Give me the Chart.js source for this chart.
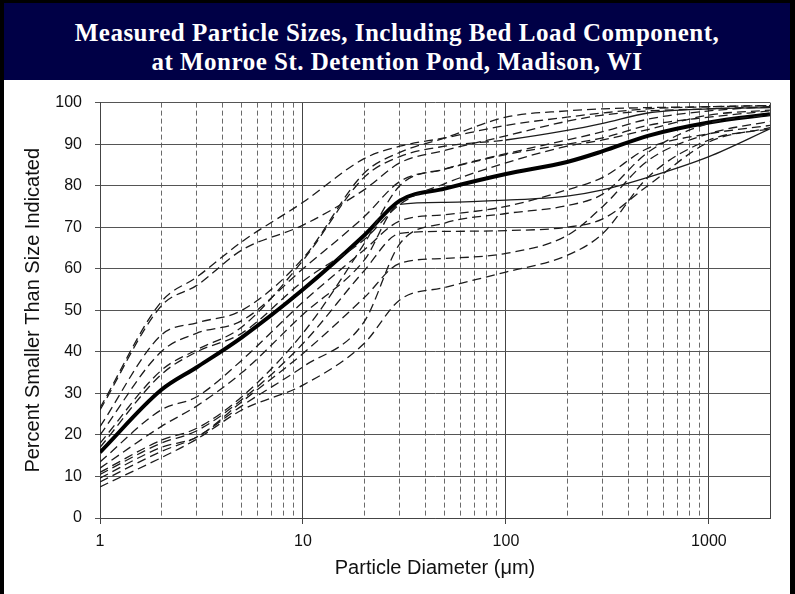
<!DOCTYPE html>
<html>
<head>
<meta charset="utf-8">
<script src="https://cdn.jsdelivr.net/npm/chart.js@4"></script>
<style>
  body { margin: 0; background: #000; }
  #frame { position: absolute; left: 0; top: 0; width: 795px; height: 594px; background: #000; overflow: hidden; }
  #banner {
    position: absolute; left: 4px; top: 3px; width: 786px; height: 77px;
    background: #000046; color: #fff; text-align: center;
    font: bold 25px "Liberation Serif", "Times New Roman", serif;
    letter-spacing: 0.5px;
    line-height: 29px; padding-top: 15px; box-sizing: border-box;
  }
  #wrap { position: absolute; left: 4px; top: 80px; width: 786px; height: 514px; background: #fff; }
</style>
</head>
<body>
<div id="frame">
  <div id="banner">Measured Particle Sizes, Including Bed Load Component,<br>at Monroe St. Detention Pond, Madison, WI</div>
  <div id="wrap"><canvas id="chart" width="786" height="514"></canvas></div>
</div>
<script>
// --- Data (particle diameter in um, percent smaller than size) ---
const sizes = [1, 2, 3, 5, 10, 20, 30, 50, 100, 200, 300, 500, 1000, 2000];

const median = [15.8, 30.8, 36.3, 43.5, 55, 68, 76.4, 79.3, 82.8, 85.7, 88.3, 92, 95.2, 97.2];

const sampleA = [26.5, 52, 58, 66.5, 76, 86.5, 89.5, 91.5, 94.5, 96.5, 97.5, 98.5, 99, 99.3];
const sampleB = [26, 51, 56, 64.5, 70.5, 79, 85.5, 88.5, 92, 95.5, 97, 98, 98.5, 99];
const sampleC = [22, 44, 47, 50, 62.5, 83, 88, 91.5, 96.5, 98, 98.5, 98.8, 99, 99.3];
const sampleD = [20, 40, 44.5, 47.5, 60, 72.5, 81, 84, 87.5, 90, 91.5, 94.5, 96.5, 98];
const sampleE = [18, 35.5, 40.5, 46, 62, 82, 87, 89.5, 91, 93.3, 95, 97.5, 98.5, 98.8];
const sampleF = [17, 34.5, 40, 44.5, 57, 67, 75.5, 80.5, 85.5, 89.5, 91, 93.5, 97, 98.2];
const sampleG = [13.5, 26, 29.2, 38, 52, 64.5, 71.5, 73, 75, 79, 82, 89, 92.5, 94.5];
const sampleH = [12, 22, 27, 35, 49, 62, 75.5, 76, 76.5, 77.5, 79, 82, 87, 93.7];
const sampleI = [11, 18.7, 21.6, 29.2, 44.5, 66, 80, 84, 87.7, 91, 93, 96, 98, 99];
const sampleJ = [10.5, 18, 21, 28.5, 42, 59.5, 68.5, 69, 69.2, 70, 72, 80, 90.5, 94];
const sampleK = [9.6, 17, 19.5, 28, 39.6, 53, 61.3, 62.5, 63.7, 68, 75, 86, 92.5, 95.5];
const sampleL = [8.7, 16, 19.5, 27, 36.4, 47.2, 66, 71, 73.3, 75.2, 78, 88, 95, 97];
const sampleM = [7.5, 14.5, 19, 26, 32, 42, 52.5, 55.5, 59.2, 63.2, 68.5, 82, 91, 93.7];

const samples = [sampleA, sampleB, sampleC, sampleD, sampleE, sampleF, sampleG,
                 sampleH, sampleI, sampleJ, sampleK, sampleL, sampleM];

// some samples are drawn with a thin solid line from this size upward
const solidFrom = { 4: 100, 7: 30 };

const xMin = 1;
const xMax = 2000;
const xLabels = [1, 10, 100, 1000];

// --- Grid positions for the log axis: 1..9, 10..90, 100..900, 1000, 2000 ---
const xGrid = [];
for (let d = 1; d <= 100; d *= 10) {
  for (let k = 1; k <= 9; k++) xGrid.push(k * d);
}
xGrid.push(1000, 2000);

const DASH = [9, 5];

function points(arr) {
  return sizes.map((x, i) => ({ x: x, y: arr[i] }));
}

const datasets = samples.map((arr, idx) => {
  const from = solidFrom[idx];
  return {
    data: points(arr),
    borderColor: "#1c1c1c",
    borderWidth: 1.3,
    borderDash: from ? [] : DASH,
    segment: from ? {
      borderDash: c => sizes[c.p0DataIndex] >= from ? [] : DASH
    } : undefined,
    pointRadius: 0,
    fill: false,
    cubicInterpolationMode: "monotone"
  };
});

datasets.push({
  data: points(median),
  borderColor: "#000",
  borderWidth: 4,
  pointRadius: 0,
  fill: false,
  cubicInterpolationMode: "monotone"
});

const tickFont = { family: "'Liberation Sans', Arial, sans-serif", size: 16 };
const titleFont = { family: "'Liberation Sans', Arial, sans-serif", size: 20 };

new Chart(document.getElementById("chart"), {
  type: "line",
  data: { datasets: datasets },
  options: {
    responsive: false,
    animation: false,
    layout: { padding: { top: 22, right: 20, left: 0, bottom: 0 } },
    plugins: {
      legend: { display: false },
      tooltip: { enabled: false }
    },
    scales: {
      x: {
        type: "logarithmic",
        min: xMin,
        max: xMax,
        afterBuildTicks: s => {
          s.ticks = xGrid.map(v => ({ value: v, major: xLabels.includes(v) }));
        },
        afterFit: s => { s.height = 76; },
        ticks: {
          autoSkip: false,
          maxRotation: 0,
          padding: 8,
          color: "#111",
          font: tickFont,
          callback: v => xLabels.includes(v) ? String(v) : ""
        },
        grid: {
          color: c => (c.tick && !c.tick.major && c.tick.value < xMax) ? "#6a6a6a" : "#444",
          lineWidth: 1,
          tickLength: 6,
          tickColor: c => (c.tick && c.tick.major) ? "#444" : "rgba(0,0,0,0)"
        },
        border: {
          color: "#444",
          width: 1,
          dash: c => (c.type === "tick" && c.tick && !c.tick.major && c.tick.value < xMax) ? [5, 3] : []
        },
        title: {
          display: true,
          text: "Particle Diameter (μm)",
          color: "#111",
          font: titleFont,
          padding: { top: 0, bottom: 14 }
        }
      },
      y: {
        min: 0,
        max: 100,
        afterFit: s => { s.width = 96; },
        ticks: {
          stepSize: 10,
          padding: 13,
          color: "#111",
          font: tickFont
        },
        grid: {
          color: "#555",
          lineWidth: 1,
          tickLength: 5,
          tickColor: "#555"
        },
        border: { color: "#444", width: 1 },
        title: {
          display: true,
          text: "Percent Smaller Than Size Indicated",
          color: "#111",
          font: titleFont,
          padding: { top: 17, bottom: 0 }
        }
      }
    }
  }
});
</script>
</body>
</html>
